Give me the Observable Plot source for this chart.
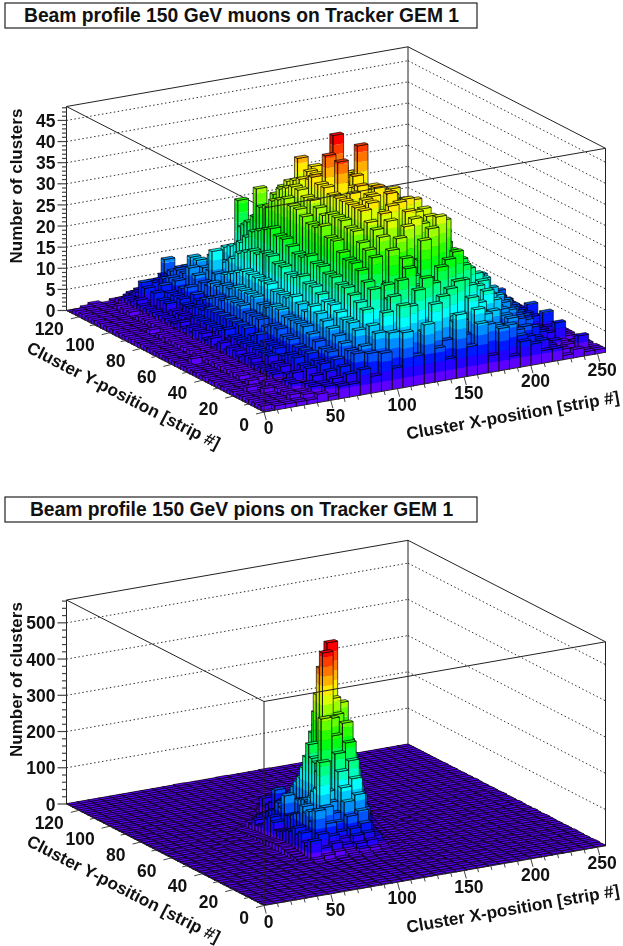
<!DOCTYPE html>
<html>
<head>
<meta charset="utf-8">
<script src="https://cdn.jsdelivr.net/npm/d3@7"></script>
<script src="https://cdn.jsdelivr.net/npm/@observablehq/plot@0.6"></script>
<style>
html,body{margin:0;padding:0;background:#fff}
svg{display:block;filter:blur(0.3px)}
</style>
</head>
<body>
<div id="chart"></div>
<script>
const muonTitle = "Beam profile 150 GeV muons on Tracker GEM 1";
const pionTitle = "Beam profile 150 GeV pions on Tracker GEM 1";
const xAxisTitle = "Cluster X-position [strip #]";
const yAxisTitle = "Cluster Y-position [strip #]";
const zAxisTitle = "Number of clusters";
const xMajor = [0,50,100,150,200,250];
const xMinor = [10,20,30,40,60,70,80,90,110,120,130,140,160,170,180,190,210,220,230,240];
const yMajor = [0,20,40,60,80,100,120];
const yMinor = [10,30,50,70,90,110];
const muonZMajor = [0,5,10,15,20,25,30,35,40,45];
const muonZMinor = [1,2,3,4,6,7,8,9,11,12,13,14,16,17,18,19,21,22,23,24,26,27,28,29,31,32,33,34,36,37,38,39,41,42,43,44,46,47,48];
const pionZMajor = [0,100,200,300,400,500];
const pionZMinor = [20,40,60,80,120,140,160,180,220,240,260,280,320,340,360,380,420,440,460,480,520,540,560];
const muonZMax = 48.3;
const pionZMax = 563;

// counts per bin: 32 bins in X (8 strips) in each of 64 rows in Y (2 strips), front row first
const muonCounts = [
[0,1,1,1,1,2,1,3,3,6,4,9,5,13,7,14,8,5,15,7,12,4,10,3,6,5,3,3,1,2,1,1],
[1,0,1,1,2,1,3,3,5,3,9,6,13,19,6,12,18,9,13,6,15,11,5,10,7,3,5,1,2,1,1,1],
[0,1,0,2,1,3,1,4,3,9,5,13,8,9,18,11,8,19,14,9,6,13,10,5,8,6,2,3,2,1,4,1],
[1,1,1,1,2,1,3,3,6,5,10,6,17,12,9,21,13,9,20,12,17,6,13,7,5,8,5,3,1,2,1,0],
[0,0,1,2,1,3,2,5,3,9,6,14,9,20,10,14,23,12,10,21,9,15,11,5,10,3,7,3,3,1,2,1],
[1,1,0,1,3,2,4,3,7,5,13,7,12,19,23,9,16,21,12,17,14,7,17,8,6,9,3,5,2,2,1,1],
[0,1,1,2,1,2,2,6,4,10,6,17,9,22,12,25,10,19,24,9,20,11,7,14,10,4,8,3,4,6,1,1],
[1,0,2,1,3,2,5,3,8,4,14,9,21,13,17,27,20,12,21,25,10,18,13,6,11,7,3,5,2,3,2,1],
[1,1,1,2,1,4,3,6,4,11,6,18,10,14,29,13,22,30,12,20,26,9,17,10,5,10,7,3,4,1,1,1],
[0,2,0,1,2,2,5,4,8,4,14,9,22,16,21,31,14,25,32,13,18,22,10,14,11,4,8,4,2,4,2,0],
[1,0,1,2,2,3,3,7,4,12,7,19,11,27,17,23,33,15,26,34,14,23,9,17,7,11,3,7,4,7,1,1],
[1,1,1,1,3,2,6,4,9,6,15,10,24,15,31,18,27,34,17,30,21,12,20,9,13,5,9,3,6,2,2,1],
[0,1,2,1,2,4,3,7,5,13,7,20,12,28,19,34,22,17,32,24,32,15,11,18,8,12,6,7,3,4,1,1],
[1,0,1,2,3,2,6,4,10,5,16,10,25,16,32,23,18,35,21,33,16,24,13,8,16,6,10,4,6,2,2,1],
[1,1,1,1,2,4,4,7,5,14,8,20,12,29,20,35,25,19,34,17,29,13,20,11,7,13,5,8,3,4,1,1],
[0,1,2,2,3,3,5,4,11,6,16,10,25,17,33,21,36,23,29,34,15,25,16,10,16,6,10,4,6,7,2,1],
[1,1,1,1,2,5,3,8,5,15,8,21,13,31,23,18,32,36,19,30,27,13,22,11,9,12,5,8,3,5,1,1],
[1,0,2,2,3,3,6,5,11,6,17,11,26,18,35,25,20,34,36,18,31,24,12,17,10,7,10,3,6,3,1,1],
[0,1,1,1,4,5,3,8,6,13,9,21,14,31,21,36,28,19,33,35,17,28,20,11,16,6,9,6,3,4,2,1],
[1,1,2,2,2,3,6,5,11,7,18,11,28,19,35,23,33,37,21,31,24,15,26,13,9,13,5,8,3,4,1,1],
[1,0,1,2,4,5,3,9,6,14,8,22,16,32,22,36,26,21,34,29,17,27,14,19,10,8,12,4,6,3,2,1],
[0,1,2,1,2,3,6,5,11,7,18,12,28,19,35,25,36,31,22,34,18,25,14,12,16,9,13,5,6,3,1,1],
[1,1,1,2,3,5,4,9,6,15,8,22,14,32,22,27,36,23,35,29,17,27,19,11,14,8,10,6,8,4,1,1],
[1,1,2,2,4,3,7,5,12,7,19,12,30,20,35,25,31,37,22,33,27,16,21,13,9,14,5,8,3,5,2,1],
[0,1,1,1,2,5,4,8,6,14,9,23,15,32,22,36,27,21,35,25,31,18,15,19,12,7,10,6,4,3,1,1],
[1,1,2,2,4,4,6,5,12,8,18,12,29,21,35,25,37,28,23,35,17,27,18,11,15,10,5,8,3,5,2,1],
[1,0,1,2,3,5,4,9,5,14,8,22,13,31,21,28,36,34,21,32,25,13,22,13,10,13,7,5,4,2,1,1],
[0,2,2,1,2,3,7,4,11,7,18,12,29,20,35,24,20,35,30,18,27,16,15,17,11,8,11,6,3,3,2,1],
[1,1,1,2,4,5,4,9,6,14,8,22,14,32,22,42,26,19,35,23,31,14,20,12,14,9,6,8,3,2,1,1],
[1,1,2,2,3,4,7,5,11,7,19,12,30,20,36,25,35,28,21,33,16,25,15,18,11,12,7,5,4,3,2,1],
[0,1,1,1,2,6,4,9,6,15,9,23,15,33,21,28,24,37,22,30,25,13,21,13,14,9,9,5,2,2,1,1],
[1,1,2,2,4,3,7,5,12,7,19,13,31,21,36,26,20,35,28,19,29,23,13,16,22,7,4,6,3,3,2,1],
[1,0,1,2,3,5,4,10,6,15,9,24,15,33,22,42,27,36,43,24,15,26,18,11,13,9,6,3,4,2,1,1],
[0,1,2,1,3,4,7,5,12,8,20,13,31,22,37,25,46,27,36,21,30,14,28,12,15,5,8,5,2,3,2,1],
[1,1,1,2,4,5,4,10,6,15,9,24,16,34,36,28,37,22,33,27,17,25,15,9,13,8,4,6,3,2,1,1],
[1,1,2,2,2,3,7,5,12,8,20,13,32,21,27,35,24,37,23,31,25,14,22,11,7,10,6,3,4,3,1,1],
[0,1,1,1,4,5,4,10,6,15,10,25,15,34,23,36,26,20,35,28,16,26,13,17,12,5,8,5,2,2,2,1],
[1,1,2,2,3,3,7,5,12,8,19,13,31,22,35,25,35,26,21,30,24,15,21,9,13,8,3,6,3,3,1,1],
[1,0,1,1,4,5,4,9,6,15,9,24,15,33,22,36,24,37,27,34,16,25,13,16,6,10,6,3,4,2,1,1],
[0,1,2,2,2,3,7,5,11,8,19,13,30,21,34,26,19,34,32,20,28,14,21,10,13,5,8,4,2,3,2,1],
[1,1,1,1,3,5,4,9,6,14,9,23,14,32,21,29,36,23,34,25,17,24,12,16,8,10,4,5,3,2,1,1],
[1,1,2,2,4,3,6,5,11,7,18,12,28,19,33,38,25,30,21,31,23,14,20,9,12,7,3,6,2,3,1,1],
[0,1,1,1,2,4,4,8,5,13,8,22,13,30,20,26,33,22,32,17,26,13,18,11,6,9,5,2,3,2,2,0],
[1,0,1,2,3,3,6,4,10,7,17,11,27,18,31,22,17,31,24,28,14,22,10,14,7,4,6,3,2,2,1,1],
[0,1,2,1,3,4,3,7,5,12,8,20,31,26,18,30,23,16,28,20,24,12,18,8,11,5,2,5,3,1,1,1],
[1,1,1,2,2,4,5,4,10,6,15,11,24,17,28,19,25,27,15,22,17,11,16,7,9,6,4,2,2,2,1,0],
[0,0,1,1,3,3,5,6,9,6,14,18,14,24,16,26,18,23,15,21,16,10,14,7,4,7,3,3,1,2,1,1],
[1,1,1,2,2,4,5,7,6,11,9,17,22,14,24,15,22,14,20,13,17,9,12,6,8,3,4,1,2,1,1,0],
[0,1,1,1,3,3,6,4,9,16,13,10,21,13,20,15,10,20,12,17,9,13,6,9,3,6,2,3,1,1,1,1],
[1,0,1,2,2,5,3,8,6,11,7,16,20,11,19,12,18,11,17,10,14,7,10,4,6,4,2,2,2,1,1,0],
[0,1,1,1,3,3,6,4,10,7,12,9,26,16,9,17,12,16,9,14,7,11,5,7,3,5,2,2,1,1,0,1],
[1,0,1,2,2,5,3,7,5,11,8,15,10,14,16,8,15,10,13,8,11,5,8,3,5,2,3,1,2,1,1,0],
[0,1,0,1,3,3,6,4,11,6,13,7,13,9,14,10,8,13,7,11,6,9,4,6,2,4,1,2,1,1,0,1],
[1,0,1,1,2,6,3,8,5,12,6,12,8,12,7,12,8,11,6,10,5,7,3,5,3,2,2,1,1,0,1,0],
[0,1,1,2,3,2,7,4,9,5,11,6,11,7,11,6,10,7,9,5,7,3,6,2,3,2,1,1,1,1,0,1],
[1,0,1,1,4,3,4,8,5,12,5,10,6,10,7,9,5,9,6,7,4,6,2,4,1,2,1,1,0,1,1,0],
[0,1,0,2,2,6,3,5,9,6,10,5,9,6,9,5,8,6,7,4,6,3,4,2,2,1,1,1,1,0,0,1],
[1,0,1,1,3,7,4,7,5,9,4,8,5,8,5,8,5,6,4,6,3,4,2,3,1,1,1,1,0,1,1,0],
[0,1,1,2,2,3,6,3,8,4,8,4,7,5,7,4,7,4,5,3,4,2,3,1,2,1,1,0,1,1,0,0],
[1,0,1,1,3,4,3,6,7,8,4,6,4,6,4,6,4,5,3,4,2,3,1,2,1,1,0,1,1,0,1,0],
[0,1,0,1,2,3,5,4,10,4,6,3,6,4,5,3,5,3,4,2,3,1,2,1,1,1,1,0,1,0,0,1],
[1,0,1,1,2,3,2,5,6,3,5,3,5,3,5,3,4,3,3,2,2,1,1,1,1,0,1,1,0,1,0,0],
[0,1,0,1,1,2,3,2,4,5,3,4,3,4,3,4,3,3,2,2,1,1,1,1,0,1,0,1,0,0,1,0],
[0,0,1,0,1,1,2,3,3,4,2,3,3,3,3,3,3,2,2,1,2,1,1,0,1,1,0,0,1,0,0,0]
];
const pionCounts = [
[2,1,3,1,2,2,1,3,2,1,3,2,1,2,3,1,3,2,1,2,1,3,2,1,2,2,1,3,1,2,1,2],
[1,2,1,2,3,1,2,2,3,2,1,3,2,4,2,3,2,1,3,2,2,1,3,2,1,3,2,1,2,1,2,1],
[2,3,2,1,2,3,2,1,2,3,2,4,3,2,3,4,3,2,2,3,1,2,2,3,2,1,2,2,3,2,1,3],
[1,2,3,2,1,2,4,3,3,2,4,3,4,3,5,3,2,4,3,1,3,2,1,2,3,2,3,1,2,1,2,2],
[3,1,2,3,2,4,2,2,4,3,3,5,3,4,3,4,4,3,2,3,2,3,2,3,1,3,2,2,1,3,2,1],
[1,2,2,1,3,2,3,4,3,4,4,3,5,4,6,3,4,3,4,2,3,1,3,2,2,1,3,2,3,2,1,2],
[2,3,1,2,4,3,2,3,5,3,4,6,4,5,4,5,3,5,2,4,2,3,4,1,3,2,2,3,1,2,2,1],
[1,2,3,3,2,3,4,2,3,4,5,4,6,5,6,4,5,3,4,3,3,2,2,3,2,3,1,2,3,1,3,2],
[3,1,2,4,3,2,3,5,4,3,5,5,4,6,7,5,4,5,3,4,2,4,3,2,3,1,3,2,2,3,1,2],
[2,3,3,2,3,4,5,3,5,4,3,6,5,7,5,6,5,3,5,2,4,3,2,4,2,3,2,3,1,2,2,3],
[1,2,2,3,4,3,2,4,4,3,5,6,7,9,8,7,5,6,4,3,3,2,4,3,1,3,2,1,3,2,3,1],
[2,4,3,2,3,5,4,3,5,6,4,7,8,10,12,8,6,5,6,4,2,4,3,2,4,2,3,2,2,1,2,2],
[3,1,2,4,2,3,5,4,4,5,6,9,11,14,15,9,8,6,4,5,3,2,3,4,2,3,1,3,2,3,1,2],
[1,3,3,2,4,3,3,5,6,4,7,10,14,20,17,14,9,7,6,4,4,3,2,3,3,2,3,2,1,2,3,1],
[2,2,3,3,3,5,4,4,5,7,8,12,20,28,26,18,11,8,5,6,3,4,2,3,2,4,2,1,3,2,2,2],
[3,1,4,2,4,2,6,3,8,14,20,26,26,38,42,24,15,9,7,5,4,3,4,2,3,2,2,3,2,1,3,1],
[1,3,2,4,3,4,3,6,10,60,36,44,36,55,58,30,14,8,8,6,3,5,2,4,3,3,1,2,3,2,1,2],
[2,2,3,3,5,3,5,4,12,40,70,60,48,70,80,40,16,9,7,6,5,3,4,3,2,3,3,2,1,3,2,2],
[3,4,2,4,3,6,4,6,14,48,130,90,62,100,110,45,18,10,9,7,4,4,3,5,2,2,3,3,2,2,1,3],
[1,2,3,3,4,3,6,5,16,70,95,130,84,135,150,50,20,11,9,6,5,3,5,3,3,4,1,2,3,1,3,2],
[2,3,4,2,5,4,4,7,18,60,120,250,104,170,190,60,20,12,10,7,4,5,3,4,2,3,3,2,2,3,2,1],
[3,1,3,4,3,5,6,5,20,75,110,172,130,210,235,100,25,13,12,8,5,4,4,3,4,2,2,3,1,2,3,2],
[1,3,2,3,5,3,5,7,24,60,125,160,155,255,280,130,30,14,13,8,6,3,5,3,2,4,3,1,3,2,1,3],
[2,2,4,3,4,6,4,6,22,58,100,140,352,300,330,150,30,16,15,9,5,5,3,4,3,3,2,3,2,2,2,1],
[3,3,2,5,3,4,7,5,24,52,95,120,200,343,300,192,60,20,17,9,6,4,4,5,2,2,4,2,1,3,2,2],
[1,2,4,3,5,5,5,8,22,46,85,125,222,340,300,230,85,24,19,9,5,6,3,4,3,3,2,3,3,1,3,1],
[2,4,3,4,4,4,6,6,20,44,80,120,230,516,340,264,116,30,20,9,7,4,5,3,4,2,3,2,2,3,1,2],
[3,1,3,3,5,6,4,7,18,40,78,115,264,470,380,250,110,40,21,9,5,6,4,4,2,3,2,3,1,2,2,3],
[1,3,2,5,3,5,6,5,16,60,128,110,225,392,530,359,120,50,20,8,6,3,5,3,4,3,3,1,3,2,3,1],
[2,2,4,3,4,4,5,7,15,70,90,100,191,240,430,240,110,60,19,8,5,5,3,4,3,2,3,2,2,3,1,2],
[3,3,3,2,6,3,6,5,14,60,100,90,160,240,400,220,100,50,17,8,4,4,5,2,4,3,1,3,2,1,2,2],
[1,2,2,4,3,5,4,6,12,40,75,80,143,180,360,200,90,44,15,7,6,3,3,4,2,3,3,2,3,2,2,1],
[2,4,3,3,4,3,6,4,12,35,70,70,125,150,320,170,80,36,13,7,4,5,4,2,3,2,4,1,2,3,1,3],
[3,1,2,4,3,5,3,6,11,28,60,60,105,120,260,140,62,30,11,6,5,3,4,3,3,2,2,3,1,2,2,2],
[1,3,3,2,5,3,5,5,10,40,55,50,90,100,165,120,50,24,10,7,3,4,2,4,2,3,3,1,3,1,3,1],
[2,2,4,3,3,4,4,6,9,22,45,40,80,85,130,95,42,18,9,6,5,3,4,2,3,2,2,3,2,2,1,2],
[3,3,2,3,4,3,5,4,9,25,40,32,70,70,100,70,32,15,8,6,3,4,3,3,2,3,1,2,3,1,2,2],
[1,2,3,2,3,5,3,5,6,9,15,26,60,55,80,50,24,12,7,5,4,2,4,2,3,2,3,2,1,3,2,1],
[2,3,2,4,3,3,5,4,5,8,12,20,90,42,58,36,18,9,6,5,3,3,3,3,2,2,2,3,2,1,1,2],
[3,1,3,2,4,3,3,5,5,7,10,15,50,32,40,26,14,8,6,4,4,2,3,2,3,3,1,2,2,2,2,1],
[1,2,2,3,2,4,4,3,4,7,8,12,40,24,28,18,11,6,5,5,2,3,2,4,2,2,3,1,3,1,2,2],
[2,3,1,2,3,3,3,5,5,6,7,9,30,17,18,14,8,7,4,4,3,3,3,2,3,1,2,2,1,2,1,3],
[1,1,3,2,3,2,5,3,4,5,6,8,50,12,13,10,7,5,5,3,4,2,2,3,1,3,2,2,2,1,2,1],
[2,3,2,3,2,4,3,4,4,5,6,6,14,9,10,8,6,5,4,4,2,3,3,2,2,2,1,3,1,2,2,2],
[1,2,2,2,3,3,4,3,3,4,5,7,9,8,7,6,5,4,4,3,3,2,2,3,2,1,3,1,2,2,1,1],
[2,1,3,1,3,2,3,4,4,3,5,5,7,6,7,5,6,3,3,4,2,3,2,2,2,2,2,2,1,1,2,2],
[1,2,1,3,2,3,2,3,3,4,4,6,5,7,5,6,4,4,3,3,3,2,3,1,3,2,1,2,2,1,1,1],
[2,2,2,1,2,2,3,2,4,3,5,4,5,4,6,3,5,2,4,2,2,3,1,2,2,1,2,1,1,2,2,1],
[1,1,2,2,3,2,2,3,2,4,3,4,4,5,3,4,3,4,2,3,2,2,2,2,1,2,2,1,2,1,1,2],
[2,1,1,2,1,3,2,3,3,2,4,3,4,3,4,3,4,2,3,2,1,3,1,2,2,1,1,2,1,1,2,1],
[1,2,1,1,2,2,3,2,2,3,3,4,3,4,3,4,2,3,2,2,2,1,2,1,2,1,2,1,1,2,1,1],
[1,1,2,1,2,1,2,2,3,2,3,3,4,2,4,2,3,3,2,2,1,2,1,2,1,2,1,1,2,1,1,2],
[2,1,1,2,1,2,2,3,2,3,2,3,3,3,3,3,2,2,3,1,2,1,2,1,1,1,2,1,1,2,1,1],
[1,1,1,1,2,1,2,2,2,2,3,2,3,3,2,3,3,2,2,2,1,2,1,1,2,1,1,1,2,1,1,1],
[1,2,1,1,1,2,1,2,2,3,2,3,2,3,3,2,2,3,1,2,2,1,1,2,1,1,1,2,1,1,1,1],
[1,1,1,2,1,1,2,1,2,2,2,2,3,2,2,3,2,2,2,1,1,2,1,1,1,2,1,1,1,1,2,1],
[1,1,1,1,2,1,1,2,1,2,2,2,2,2,3,2,2,1,2,2,1,1,2,1,1,1,1,2,1,1,1,1],
[1,1,2,1,1,1,2,1,2,1,2,2,2,2,2,2,2,2,1,1,2,1,1,1,2,1,1,1,1,1,1,1],
[1,1,1,1,1,2,1,1,1,2,2,1,2,2,2,2,1,2,1,2,1,1,1,2,1,1,1,1,1,2,1,1],
[1,1,1,1,1,1,1,2,2,1,1,2,2,1,2,2,2,1,2,1,1,1,2,1,1,1,2,1,1,1,1,1],
[1,1,1,2,1,1,1,1,1,2,2,1,2,2,1,2,1,2,1,1,1,2,1,1,1,1,1,1,1,1,1,1],
[1,1,1,1,1,1,2,1,1,1,1,2,1,2,2,1,2,1,1,1,2,1,1,1,1,1,1,2,1,1,1,1],
[1,1,1,1,1,1,1,1,2,1,1,1,2,1,1,2,1,1,1,2,1,1,1,1,1,1,1,1,1,1,1,1],
[1,1,1,1,1,1,1,1,1,1,2,1,1,1,2,1,1,1,2,1,1,1,1,1,1,2,1,1,1,1,1,1]
];

const stripsX = 256, stripsY = 128, binsX = 32, binsY = 64;
const W = 623, H = 473, FONT = "Liberation Sans, Arial, sans-serif";

// orthographic camera of the lego box (plane units are pixels, v upward)
function camera(v0, zMax) {
  return (X, Y, Z) => ({
    u: 263.5 + X / stripsX * 341.5 - Y / stripsY * 197.5,
    v: v0 + X / stripsX * 59.7 + Y / stripsY * 101.5 + Z / zMax * 204
  });
}
function levelColor(level, shade) {
  const c = d3.hsl(262 * (1 - level / 19), 1, 0.5);
  return c.darker(shade).formatHex();
}

function legoFaces(counts, zMax, project) {
  const peak = d3.max(counts.flat());
  const step = peak / 20;
  const out = [];
  let id = 0;
  const poly = (corners, fill, stroke) => {
    id++;
    for (const c of corners) {
      const p = project(c[0], c[1], c[2]);
      out.push({u: p.u, v: p.v, id, fill, stroke});
    }
  };
  const dx = stripsX / binsX, dy = stripsY / binsY;
  for (let j = binsY - 1; j >= 0; j--) {
    for (let i = binsX - 1; i >= 0; i--) {
      const n = counts[j][i];
      const x0 = i * dx, x1 = x0 + dx, y0 = j * dy, y1 = y0 + dy;
      const top = Math.min(19, Math.floor(n / step));
      if (n > 0) {
        for (let l = 0; l <= top; l++) {
          const a = l * step, b = l === top ? n : (l + 1) * step;
          poly([[x0,y0,a],[x0,y1,a],[x0,y1,b],[x0,y0,b]], levelColor(l, 0.25), "none");
          poly([[x0,y0,a],[x1,y0,a],[x1,y0,b],[x0,y0,b]], levelColor(l, 0), "none");
        }
        poly([[x0,y1,0],[x0,y1,n],[x0,y0,n],[x0,y0,0]], "none", "#000");
        poly([[x1,y0,0],[x1,y0,n],[x0,y0,n],[x0,y0,0]], "none", "#000");
      }
      poly([[x0,y0,n],[x1,y0,n],[x1,y1,n],[x0,y1,n],[x0,y0,n]], levelColor(top, 0.05), "#000");
    }
  }
  return out;
}

function panel(title, counts, zMax, zMajor, zMinor, v0, boxTop, titleX) {
  const P = camera(v0, zMax);
  const seg = (a, b) => { const p = P(...a), q = P(...b); return {u1:p.u, v1:p.v, u2:q.u, v2:q.v}; };
  const link = (data, o) => Plot.link(data, {x1:"u1", y1:"v1", x2:"u2", y2:"v2", ...o});
  const XM = stripsX, YM = stripsY;
  const gridBack = zMajor.filter(z => z > 0).map(z => seg([0,YM,z],[XM,YM,z]));
  const gridRight = zMajor.filter(z => z > 0).map(z => seg([XM,YM,z],[XM,0,z]));
  const frameBack = [
    seg([0,YM,0],[0,YM,zMax]), seg([XM,YM,0],[XM,YM,zMax]), seg([XM,0,0],[XM,0,zMax]),
    seg([0,YM,zMax],[XM,YM,zMax]), seg([XM,YM,zMax],[XM,0,zMax]), seg([0,YM,zMax],[0,0,zMax]),
    seg([0,YM,0],[XM,YM,0]), seg([XM,YM,0],[XM,0,0])
  ];
  const frameFront = [
    seg([0,0,0],[0,0,zMax]), seg([0,0,zMax],[XM,0,zMax]),
    seg([0,YM,0],[0,0,0]), seg([0,0,0],[XM,0,0])
  ];
  const tickX = (list, du, dv) => list.map(t => { const p = P(t,0,0); return {u1:p.u, v1:p.v, u2:p.u+du, v2:p.v+dv}; });
  const tickY = (list, du, dv) => list.map(t => { const p = P(0,t,0); return {u1:p.u, v1:p.v, u2:p.u+du, v2:p.v+dv}; });
  const tickZ = (list, du) => list.map(t => { const p = P(0,YM,t); return {u1:p.u, v1:p.v, u2:p.u+du, v2:p.v}; });
  const labelAt = (list, fn) => list.map(t => ({...fn(t), t}));
  const tp = (o) => ({fontFamily:FONT, fontWeight:"bold", fill:"#111", ...o});
  const faces = legoFaces(counts, zMax, P);
  const mid = P(0,YM,zMax*0.61);
  const xT = P(XM*0.72,0,0), yT = P(0,YM*0.57,0);
  return Plot.plot({
    width: W, height: H, margin: 0,
    x: {domain:[0,W], range:[0,W], axis:null},
    y: {domain:[0,H], range:[H,0], axis:null},
    color: {type:"identity"},
    marks: [
      Plot.rect([{x1:5, x2:477, y1:boxTop, y2:boxTop-25}], {x1:"x1", x2:"x2", y1:"y1", y2:"y2", fill:"#fff", stroke:"#222", strokeWidth:1.2}),
      Plot.text([title], {x:titleX, y:boxTop-12.5, text:d=>d, ...tp({fontSize:19.3})}),
      link(gridBack, {stroke:"#333", strokeWidth:1, strokeDasharray:"1.5,2.5"}),
      link(gridRight, {stroke:"#333", strokeWidth:1, strokeDasharray:"1.5,2.5"}),
      link(frameBack, {stroke:"#222", strokeWidth:1}),
      Plot.line(faces, {x:"u", y:"v", z:"id", fill:"fill", stroke:"stroke", strokeWidth:0.65, strokeLinejoin:"round"}),
      link(frameFront, {stroke:"#222", strokeWidth:1}),
      link(tickZ(zMajor,-9), {stroke:"#444", strokeWidth:1.2}),
      link(tickZ(zMinor,-4.5), {stroke:"#444", strokeWidth:1.2}),
      link(tickX(xMajor,2.2,-8), {stroke:"#444", strokeWidth:1}),
      link(tickX(xMinor,1.1,-4), {stroke:"#444", strokeWidth:1}),
      link(tickY(yMajor,-8,-2), {stroke:"#444", strokeWidth:1}),
      link(tickY(yMinor,-4.5,-1), {stroke:"#444", strokeWidth:1}),
      Plot.text(labelAt(zMajor, t=>P(0,YM,t)), {x:"u", y:"v", text:d=>String(d.t), dx:-11, dy:1, ...tp({fontSize:17.5, textAnchor:"end"})}),
      Plot.text(labelAt(xMajor, t=>P(t,0,0)), {x:"u", y:"v", text:d=>String(d.t), dx:4.7, dy:16.5, ...tp({fontSize:17.5})}),
      Plot.text(labelAt(yMajor, t=>P(0,t,0)), {x:"u", y:"v", text:d=>String(d.t), dx:-15, dy:13, ...tp({fontSize:17.5, textAnchor:"end"})}),
      Plot.text([xAxisTitle], {x:xT.u, y:xT.v, text:d=>d, rotate:-9.9, dx:3, dy:46.5, ...tp({fontSize:17.2})}),
      Plot.text([yAxisTitle], {x:yT.u, y:yT.v, text:d=>d, rotate:27.2, dx:-28, dy:41.5, ...tp({fontSize:17.2})}),
      Plot.text([zAxisTitle], {x:16, y:mid.v, text:d=>d, rotate:-90, ...tp({fontSize:17})})
    ]
  });
}

const root = document.getElementById("chart");
root.append(panel(muonTitle, muonCounts, muonZMax, muonZMajor, muonZMinor, 473-411.5, 473-3, 241));
root.append(panel(pionTitle, pionCounts, pionZMax, pionZMajor, pionZMinor, 473-432, 473-24, 241));
</script>
</body>
</html>
